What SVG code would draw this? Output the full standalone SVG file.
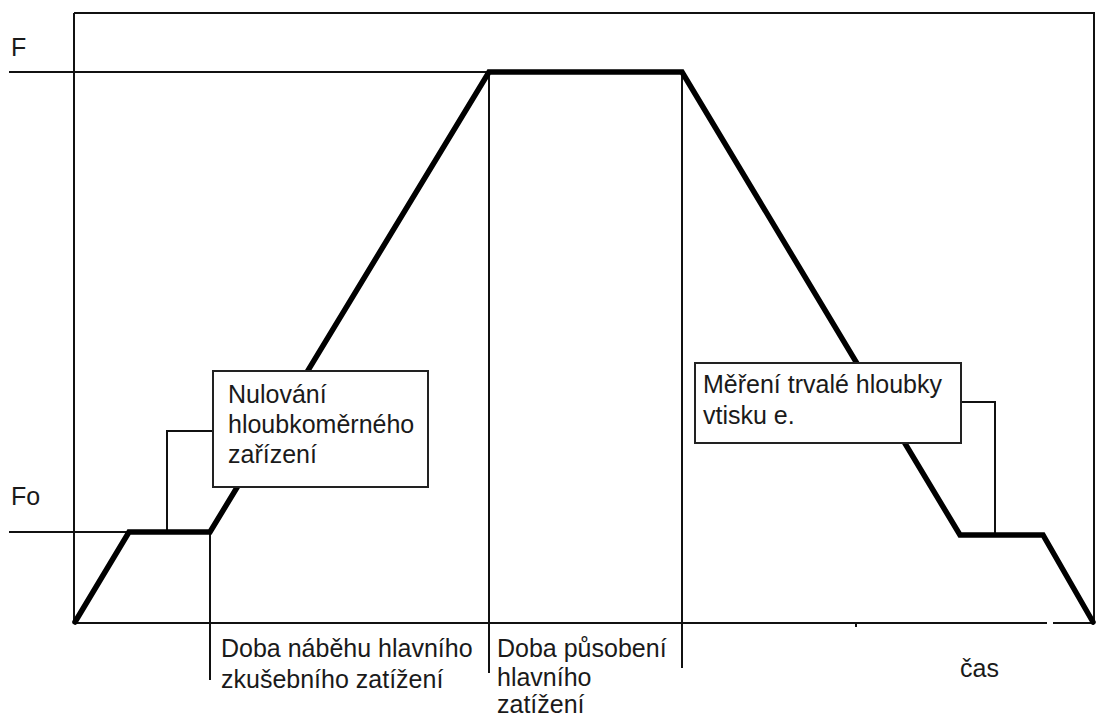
<svg xmlns="http://www.w3.org/2000/svg" width="1096" height="720" viewBox="0 0 1096 720">
<style>
.thin{stroke:#111;stroke-width:2;fill:none}
.thick{stroke:#000;stroke-width:5.5;fill:none;stroke-linejoin:miter;stroke-linecap:round}
.box{fill:#fff;stroke:#222;stroke-width:2}
text{font-family:"Liberation Sans",Arial,sans-serif;font-size:25px;fill:#1a1a1a}
</style>
<rect width="1096" height="720" fill="#fff"/>
<g id="connectors">
<path class="thin" d="M74,13 H1094 V623"/>
<path class="thin" d="M74,13 V624"/>
<path class="thin" d="M74,623 H1047 M1053,623 H1094"/>
<path class="thin" d="M856,623 V627"/>
<path class="thin" d="M9,72 H489"/>
<path class="thin" d="M9,532 H130"/>
<path class="thin" d="M210,532 V680"/>
<path class="thin" d="M489,72 V673"/>
<path class="thin" d="M682,72 V668"/>
<path class="thin" d="M213,431 H167 V532"/>
<path class="thin" d="M961,402 H995 V535"/>
<path id="curve" class="thick" d="M75,622 L129,532 L210,532 L489,72 L682,72 L960,535 L1043,535 L1093,622"/>
</g>
<g id="label-F"><text x="11" y="56">F</text></g>
<g id="label-Fo"><text x="11" y="505">Fo</text></g>
<g id="box-nulovani">
<rect class="box" x="213" y="371" width="215" height="116"/>
<text x="228" y="403">Nulování</text>
<text x="228" y="433">hloubkoměrného</text>
<text x="228" y="463">zařízení</text>
</g>
<g id="box-mereni">
<rect class="box" x="695" y="363" width="266" height="80"/>
<text x="703" y="393">Měření trvalé hloubky</text>
<text x="703" y="424">vtisku e.</text>
</g>
<g id="label-nabeh">
<text x="221" y="657">Doba náběhu hlavního</text>
<text x="221" y="688">zkušebního zatížení</text>
</g>
<g id="label-pusobeni">
<text x="497" y="657">Doba působení</text>
<text x="497" y="686">hlavního</text>
<text x="497" y="713">zatížení</text>
</g>
<g id="label-cas"><text x="960" y="677">čas</text></g>
</svg>
